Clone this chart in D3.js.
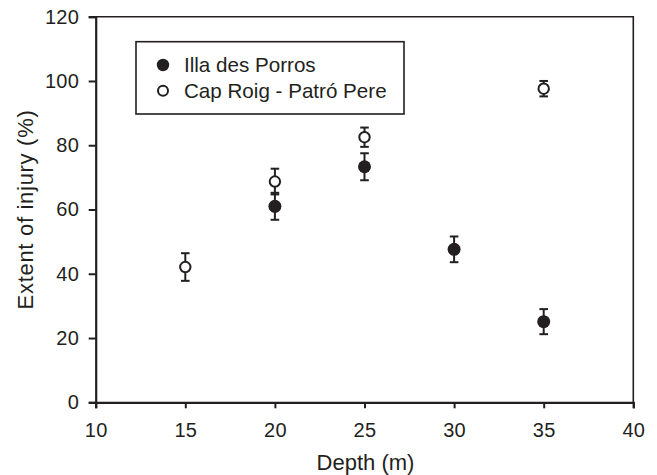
<!DOCTYPE html>
<html>
<head>
<meta charset="utf-8">
<script src="https://cdn.jsdelivr.net/npm/d3@7"></script>
<style>
  html, body { margin: 0; padding: 0; background: #fff; }
  text { font-family: "Liberation Sans", Arial, Helvetica, sans-serif; fill: #231f20; }
</style>
</head>
<body>
<svg id="chart" width="657" height="475"></svg>
<script>
// ---- data ----
const xTicks = [10, 15, 20, 25, 30, 35, 40];
const yTicks = [0, 20, 40, 60, 80, 100, 120];

const illaDepth = [20, 25, 30, 35];
const illaMean  = [61.0, 73.3, 47.6, 25.1];
const illaErr   = [4.2, 4.2, 4.0, 3.9];

const capDepth = [15, 20, 25, 35];
const capMean  = [42.1, 68.7, 82.5, 97.6];
const capErr   = [4.3, 4.0, 3.0, 2.4];

const seriesNames = ["Illa des Porros", "Cap Roig - Patró Pere"];
const xLabel = "Depth (m)";
const yLabel = "Extent of injury (%)";

// ---- layout ----
const ink = "#231f20";
const svg = d3.select("#chart");
const pL = 95.7, pR = 633.3, pT = 16.7, pB = 402.3;

const x = d3.scaleLinear().domain([10, 40]).range([pL, pR]);
const y = d3.scaleLinear().domain([0, 120]).range([pB, pT]);

// frame (top & right)
svg.append("path")
  .attr("d", `M${pL},${pT}H${pR}V${pB}`)
  .attr("fill", "none").attr("stroke", ink).attr("stroke-width", 1.6);

// axes
const xAxis = svg.append("g").attr("transform", `translate(0,${pB})`)
  .call(d3.axisBottom(x).tickValues(xTicks).tickSizeOuter(0).tickSize(6).tickPadding(14.5));
const yAxis = svg.append("g").attr("transform", `translate(${pL},0)`)
  .call(d3.axisLeft(y).tickValues(yTicks).tickSizeOuter(0).tickSize(7).tickPadding(9.5));

[xAxis, yAxis].forEach(g => {
  g.select(".domain").attr("stroke", ink).attr("stroke-width", 2.2);
  g.selectAll(".tick line").attr("stroke", ink).attr("stroke-width", 2);
  g.selectAll(".tick text").attr("font-size", 20).attr("fill", ink)
    .attr("letter-spacing", 0.3)
    .style("font-family", "'Liberation Sans', Arial, sans-serif");
});

// axis titles
svg.append("text").attr("x", (pL + pR) / 2 + 1).attr("y", 469.5)
  .attr("text-anchor", "middle").attr("font-size", 22).text(xLabel);
svg.append("text")
  .attr("transform", `translate(33,${(pT + pB) / 2}) rotate(-90)`)
  .attr("text-anchor", "middle").attr("font-size", 22)
  .attr("letter-spacing", 0.7).text(yLabel);

// error bars + markers
function drawSeries(depths, means, errs, filled) {
  const g = svg.append("g");
  const data = depths.map((d, i) => ({ d, m: means[i], e: errs[i] }));
  const capW = 4.3;
  const eb = g.selectAll(".eb").data(data).join("g");
  eb.append("line")
    .attr("x1", v => x(v.d)).attr("x2", v => x(v.d))
    .attr("y1", v => y(v.m - v.e)).attr("y2", v => y(v.m + v.e))
    .attr("stroke", ink).attr("stroke-width", 2);
  eb.append("line")
    .attr("x1", v => x(v.d) - capW).attr("x2", v => x(v.d) + capW)
    .attr("y1", v => y(v.m + v.e)).attr("y2", v => y(v.m + v.e))
    .attr("stroke", ink).attr("stroke-width", 2);
  eb.append("line")
    .attr("x1", v => x(v.d) - capW).attr("x2", v => x(v.d) + capW)
    .attr("y1", v => y(v.m - v.e)).attr("y2", v => y(v.m - v.e))
    .attr("stroke", ink).attr("stroke-width", 2);
  g.selectAll(".pt").data(data).join("circle")
    .attr("cx", v => x(v.d)).attr("cy", v => y(v.m))
    .attr("r", filled ? 6.5 : 5.2)
    .attr("fill", filled ? ink : "#fff")
    .attr("stroke", ink).attr("stroke-width", filled ? 0 : 2);
}
drawSeries(capDepth, capMean, capErr, false);
drawSeries(illaDepth, illaMean, illaErr, true);

// legend
const lg = svg.append("g");
lg.append("rect").attr("x", 136).attr("y", 41.7).attr("width", 268).attr("height", 72.3)
  .attr("fill", "#fff").attr("stroke", ink).attr("stroke-width", 1.6);
const legRows = [{ name: seriesNames[0], filled: true, cy: 65 },
                 { name: seriesNames[1], filled: false, cy: 90.7 }];
legRows.forEach(r => {
  lg.append("circle").attr("cx", 163).attr("cy", r.cy)
    .attr("r", r.filled ? 6.2 : 5)
    .attr("fill", r.filled ? ink : "#fff")
    .attr("stroke", ink).attr("stroke-width", r.filled ? 0 : 2);
  lg.append("text").attr("x", 184).attr("y", r.cy + 7)
    .attr("font-size", 20.6).text(r.name);
});
</script>
</body>
</html>
